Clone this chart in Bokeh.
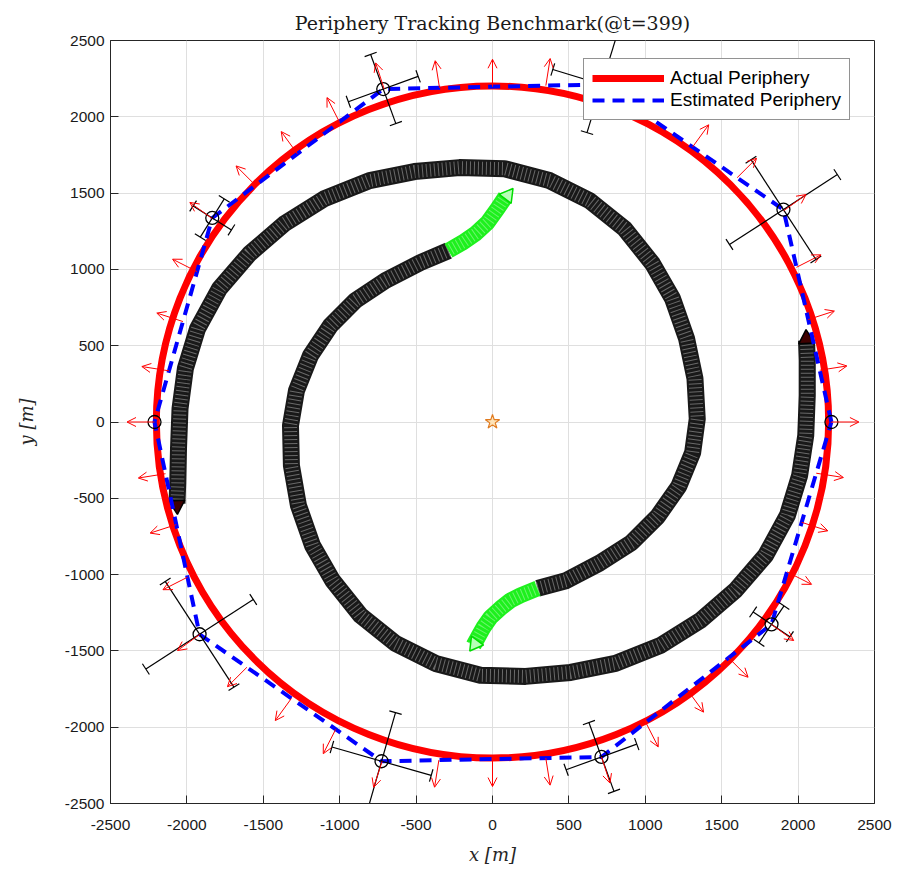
import numpy as np
from bokeh.plotting import figure
from bokeh.models import (Range1d, Arrow, OpenHead, ColumnDataSource,
                          Legend, LegendItem, FixedTicker)
from bokeh.embed import file_html
from bokeh.resources import INLINE

# ---------------- data ----------------
TITLE = "Periphery Tracking Benchmark(@t=399)"
X_LABEL = "x [m]"
Y_LABEL = "y [m]"
tick_values = [-2500, -2000, -1500, -1000, -500, 0, 500, 1000, 1500, 2000, 2500]
tick_labels = ["-2500", "-2000", "-1500", "-1000", "-500", "0", "500", "1000", "1500", "2000", "2500"]

actual_radius = 2200

# robots (estimated periphery vertices), counter-clockwise from 0 deg
robot_x = [2218, 1904, 715, -715, -1834, -2212, -1917, -726, 713, 1826]
robot_y = [0, 1392, 2212, 2182, 1337, 0, -1391, -2223, -2195, -1326]
# uncertainty cross: direction of arm A (deg) and half lengths of arm A / arm B (B is perpendicular)
arm_angle = [0, 33, -17, 20, -32, 0, 33, -16, 20, -34]
arm_a = [0, 421, 335, 243, 148, 0, 419, 338, 246, 145]
arm_b = [0, 390, 330, 241, 148, 0, 413, 331, 240, 146]

# normal-arrow sampling on the estimated periphery
arrow_step_deg = 9
arrow_length = 180

# trajectory A (upper green part, then black part)
trajA_green_x = [85, 33, -33, -111, -196, -288]
trajA_green_y = [1476, 1398, 1306, 1234, 1176, 1123]
trajA_black_x = [-288, -471, -700, -897, -1060, -1191, -1283, -1322, -1316, -1270, -1178, -1047,
                 -864, -635, -373, -79, 216, 511, 805, 1100, 1361, 1590, 1787, 1930, 2010,
                 2050, 2060, 2060, 2055]
trajA_black_y = [1123, 1045, 927, 796, 632, 436, 206, -23, -285, -547, -809, -1038,
                 -1267, -1451, -1582, -1660, -1667, -1641, -1582, -1464, -1300, -1103, -874, -612, -350,
                 -88, 174, 403, 534]
# trajectory B (lower green part, then black part)
trajB_green_x = [-124, -92, -59, -13, 52, 118, 183, 295]
trajB_green_y = [-1464, -1405, -1346, -1280, -1221, -1169, -1136, -1090]
trajB_black_x = [295, 480, 700, 910, 1080, 1220, 1310, 1340, 1325, 1270, 1178, 1047,
                 864, 635, 373, 79, -216, -511, -805, -1100, -1361, -1590, -1787, -1930, -2010,
                 -2045, -2055, -2060, -2065]
trajB_black_y = [-1090, -1040, -925, -790, -620, -420, -200, 20, 285, 547, 809, 1038,
                 1267, 1451, 1582, 1660, 1667, 1641, 1582, 1464, 1300, 1103, 874, 612, 350,
                 88, -174, -403, -534]
green_tip_x = [100, -115]
green_tip_y = [1485, -1455]
green_tip_angle = [-0.65, 2.5]
black_tip_x = [2055, -2065]
black_tip_y = [545, -545]
black_tip_angle = [0.05, 3.19]

target_x = [0]
target_y = [0]

# ---------------- figure ----------------
p = figure(width=900, height=870, x_range=Range1d(-2500, 2500), y_range=Range1d(-2500, 2500),
           output_backend="svg", toolbar_location=None, title=TITLE,
           min_border_left=110, min_border_right=26, min_border_top=40, min_border_bottom=67)
p.background_fill_color = "white"
p.border_fill_color = "white"
p.outline_line_color = "#262626"
p.outline_line_width = 1

xax = p.below[0]
yax = p.left[0]
for ax in (xax, yax):
    ax.ticker = FixedTicker(ticks=tick_values)
    ax.major_label_overrides = dict(zip(tick_values, tick_labels))
    ax.major_tick_in = 8
    ax.major_tick_out = 0
    ax.minor_tick_line_color = None
    ax.axis_line_color = "#262626"
    ax.major_tick_line_color = "#262626"
    ax.major_label_text_font = "Liberation Sans"
    ax.major_label_text_font_size = "15.5px"
    ax.major_label_text_color = "#1a1a1a"
    ax.axis_label_text_font = "DejaVu Serif"
    ax.axis_label_text_font_style = "italic"
    ax.axis_label_text_font_size = "18px"
    ax.axis_label_text_color = "#262626"
xax.axis_label = X_LABEL
yax.axis_label = Y_LABEL
xax.major_label_standoff = 16
xax.axis_label_standoff = 11
yax.major_label_standoff = 6
yax.axis_label_standoff = 25

p.xgrid.ticker = FixedTicker(ticks=tick_values)
p.ygrid.ticker = FixedTicker(ticks=tick_values)
p.grid.grid_line_color = "#dfdfdf"
p.grid.grid_line_width = 1

p.title.text_font = "DejaVu Serif"
p.title.text_font_size = "19px"
p.title.text_font_style = "normal"
p.title.text_color = "#1a1a1a"
p.title.align = "center"
p.title.standoff = 14

# ---------------- trajectories ----------------
for tx, ty in ((trajA_black_x, trajA_black_y), (trajB_black_x, trajB_black_y)):
    p.line(tx, ty, line_color="black", line_width=17, line_alpha=0.9, line_join="round")
    p.line(tx, ty, line_color="white", line_width=13, line_alpha=0.35, line_dash="1 3",
           line_join="round")
for tx, ty in ((trajA_green_x, trajA_green_y), (trajB_green_x, trajB_green_y)):
    p.line(tx, ty, line_color="#1ef01e", line_width=16, line_join="round")
    p.line(tx, ty, line_color="white", line_width=12, line_alpha=0.35, line_dash="1 3",
           line_join="round")
p.scatter(green_tip_x, green_tip_y, marker="triangle", size=15, angle=green_tip_angle,
          fill_color="#b8ffb8", line_color="#00dd00", line_width=1.5)
p.scatter(black_tip_x, black_tip_y, marker="triangle", size=16, angle=black_tip_angle,
          fill_color="#400000", line_color="black", line_width=1.5)

# ---------------- actual periphery ----------------
p.circle(x=[0], y=[0], radius=actual_radius, fill_color=None, line_color="#ff0000", line_width=7)
# one-point line on the circle: draws nothing itself, only supplies the legend swatch
leg_red = p.line(x=[0], y=[actual_radius], line_color="#ff0000", line_width=7)

# ---------------- estimated periphery (polygon through robots) ----------------
poly_x = list(robot_x) + [robot_x[0]]
poly_y = list(robot_y) + [robot_y[0]]
r_blue = p.line(poly_x, poly_y, line_color="#0000ff", line_width=4, line_dash="12 8")

# ---------------- outward arrows ----------------
P = np.column_stack([robot_x, robot_y]).astype(float)
n = len(P)
xs0, ys0, xs1, ys1 = [], [], [], []
for a in np.deg2rad(np.arange(0, 360, arrow_step_deg)):
    d = np.array([np.cos(a), np.sin(a)])
    for i in range(n):
        A = P[i]
        e = P[(i + 1) % n] - A
        den = e[0] * d[1] - e[1] * d[0]
        if abs(den) < 1e-9:
            continue
        s = -(A[0] * d[1] - A[1] * d[0]) / den
        if -1e-6 <= s <= 1 + 1e-6:
            Q = A + s * e
            if Q @ d > 0:
                xs0.append(Q[0]); ys0.append(Q[1])
                xs1.append(Q[0] + arrow_length * d[0]); ys1.append(Q[1] + arrow_length * d[1])
                break
arrow_src = ColumnDataSource(dict(x_start=xs0, y_start=ys0, x_end=xs1, y_end=ys1))
p.add_layout(Arrow(end=OpenHead(size=9, line_color="#ff0000", line_width=1),
                   source=arrow_src, x_start="x_start", y_start="y_start",
                   x_end="x_end", y_end="y_end", line_color="#ff0000", line_width=1))

# ---------------- uncertainty crosses ----------------
cap = 42
cx0, cy0, cx1, cy1 = [], [], [], []
for i in range(n):
    c = P[i]
    for ang_deg, h in ((arm_angle[i], arm_a[i]), (arm_angle[i] + 90, arm_b[i])):
        if h <= 0:
            continue
        t = np.deg2rad(ang_deg)
        u = np.array([np.cos(t), np.sin(t)])
        v = np.array([-np.sin(t), np.cos(t)])
        e1 = c - h * u
        e2 = c + h * u
        for s0, s1 in ((e1, e2), (e1 - cap * v, e1 + cap * v), (e2 - cap * v, e2 + cap * v)):
            cx0.append(s0[0]); cy0.append(s0[1]); cx1.append(s1[0]); cy1.append(s1[1])
p.segment(cx0, cy0, cx1, cy1, line_color="black", line_width=1.2)

p.scatter(robot_x, robot_y, marker="circle", size=13, fill_color=None,
          line_color="black", line_width=1.3)
p.scatter(target_x, target_y, marker="star", size=15, fill_color="#fde3b8",
          line_color="#e07a1f", line_width=1.2)

# ---------------- legend ----------------
legend = Legend(items=[LegendItem(label="Actual Periphery", renderers=[leg_red]),
                       LegendItem(label="Estimated Periphery", renderers=[r_blue])],
                location=(473, 683))
legend.margin = 0
legend.padding = 8
legend.spacing = 0
legend.glyph_width = 72
legend.glyph_height = 22
legend.label_height = 22
legend.label_standoff = 6
legend.label_text_font = "Liberation Sans"
legend.label_text_font_size = "19px"
legend.label_text_color = "black"
legend.border_line_color = "#262626"
legend.border_line_width = 1
legend.background_fill_color = "white"
legend.background_fill_alpha = 1
p.add_layout(legend)

open("out.html", "w").write(file_html(p, INLINE))
